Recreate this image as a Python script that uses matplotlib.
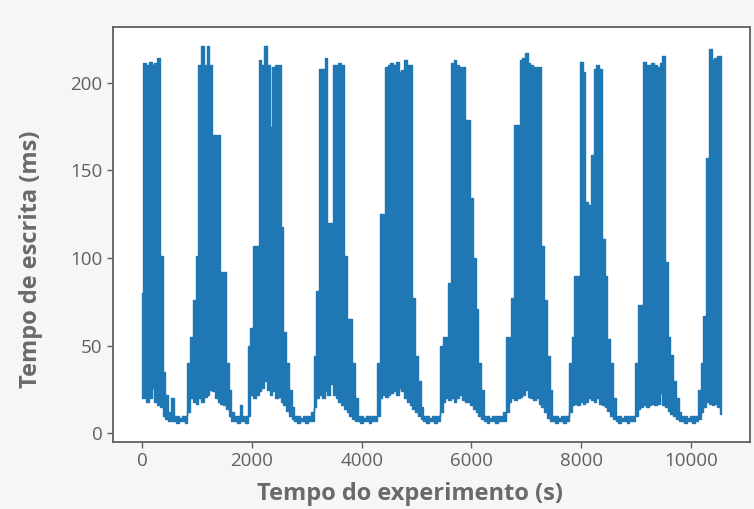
import numpy as np
import matplotlib
matplotlib.use("Agg")
import matplotlib.pyplot as plt

# sample times of the write-latency trace (s), one every 50 s
t = np.arange(0, 10600, 50)

# upper envelope of the trace (ms)
hi = [80, 211, 210, 212, 210, 211, 214, 101, 35, 22,
      12, 20, 10, 10, 9, 10, 10, 40, 55, 76,
      101, 210, 221, 210, 221, 210, 170, 170, 170, 92,
      92, 40, 25, 12, 10, 10, 16, 10, 10, 50,
      60, 107, 107, 213, 210, 221, 210, 175, 209, 210,
      210, 118, 58, 40, 25, 15, 10, 10, 9, 10,
      10, 10, 12, 44, 81, 208, 208, 214, 120, 120,
      210, 210, 211, 210, 101, 65, 65, 40, 20, 10,
      10, 9, 10, 10, 10, 10, 40, 125, 125, 209,
      210, 211, 210, 212, 206, 207, 213, 210, 210, 77,
      44, 30, 15, 10, 10, 9, 10, 10, 10, 50,
      55, 55, 86, 211, 213, 210, 209, 209, 179, 179,
      134, 100, 71, 40, 25, 10, 10, 9, 10, 10,
      10, 10, 12, 55, 55, 77, 176, 176, 213, 214,
      217, 211, 210, 209, 209, 209, 107, 76, 44, 25,
      10, 10, 9, 10, 10, 10, 40, 55, 90, 90,
      212, 206, 132, 130, 159, 208, 210, 208, 111, 90,
      54, 40, 20, 10, 10, 9, 10, 10, 10, 10,
      40, 73, 73, 212, 210, 210, 211, 210, 209, 211,
      215, 98, 55, 45, 30, 20, 12, 10, 10, 9,
      10, 10, 10, 25, 40, 67, 157, 219, 213, 214,
      215, 215]

# lower envelope of the trace (ms)
lo = [20, 20, 18, 20, 26, 18, 16, 15, 10, 8,
      7, 7, 7, 6, 7, 7, 6, 12, 20, 18,
      17, 20, 18, 21, 22, 25, 24, 20, 18, 17,
      16, 14, 10, 7, 7, 6, 7, 7, 6, 10,
      22, 20, 22, 24, 26, 30, 25, 22, 24, 20,
      21, 18, 16, 13, 10, 8, 7, 6, 7, 7,
      6, 7, 7, 15, 20, 22, 20, 24, 22, 28,
      22, 20, 18, 16, 14, 12, 10, 8, 7, 7,
      6, 7, 7, 6, 7, 7, 10, 20, 22, 21,
      22, 23, 24, 22, 26, 24, 20, 18, 16, 14,
      12, 10, 8, 7, 6, 7, 7, 6, 7, 12,
      18, 20, 19, 20, 18, 20, 22, 19, 18, 18,
      16, 14, 12, 10, 8, 7, 6, 7, 7, 6,
      7, 7, 7, 12, 18, 20, 19, 20, 21, 22,
      25, 21, 20, 19, 20, 17, 15, 12, 9, 7,
      7, 6, 7, 7, 6, 7, 12, 16, 17, 16,
      18, 17, 18, 20, 19, 18, 20, 17, 16, 15,
      13, 10, 8, 7, 6, 7, 7, 6, 7, 7,
      10, 14, 15, 16, 15, 16, 17, 16, 17, 23,
      16, 15, 13, 11, 10, 8, 7, 7, 6, 7,
      7, 6, 7, 8, 12, 15, 18, 17, 16, 17,
      15, 11]

xticks = [0, 2000, 4000, 6000, 8000, 10000]
yticks = [0, 50, 100, 150, 200]

plt.rcParams["font.family"] = ["Open Sans", "DejaVu Sans"]
grey = "#606060"
blue = "#1f77b4"

fig = plt.figure(figsize=(7.54, 5.09), dpi=100, facecolor="#f6f6f6")
ax = fig.add_axes([0.150, 0.132, 0.845, 0.815])
ax.set_facecolor("white")

# the trace swings between both envelopes so fast that it reads as a band
ax.fill_between(t, lo, hi, step="mid", facecolor=blue, edgecolor=blue, lw=1.0)

ax.set_xticks(xticks)
ax.set_yticks(yticks)
ax.tick_params(colors=grey, labelsize=13.5, length=4, width=1)
for s in ax.spines.values():
    s.set_color(grey)
    s.set_linewidth(1.3)

ax.set_xlabel("Tempo do experimento (s)", fontsize=17, fontweight="bold",
              color="#6a6a6a")
ax.set_ylabel("Tempo de escrita (ms)", fontsize=17, fontweight="bold",
              color="#6a6a6a")
# labels sit a little left / low of the axes centre in the source
ax.xaxis.set_label_coords(0.466, -0.097)
ax.yaxis.set_label_coords(-0.110, 0.44)

fig.savefig("out.png", dpi=100, facecolor=fig.get_facecolor())
